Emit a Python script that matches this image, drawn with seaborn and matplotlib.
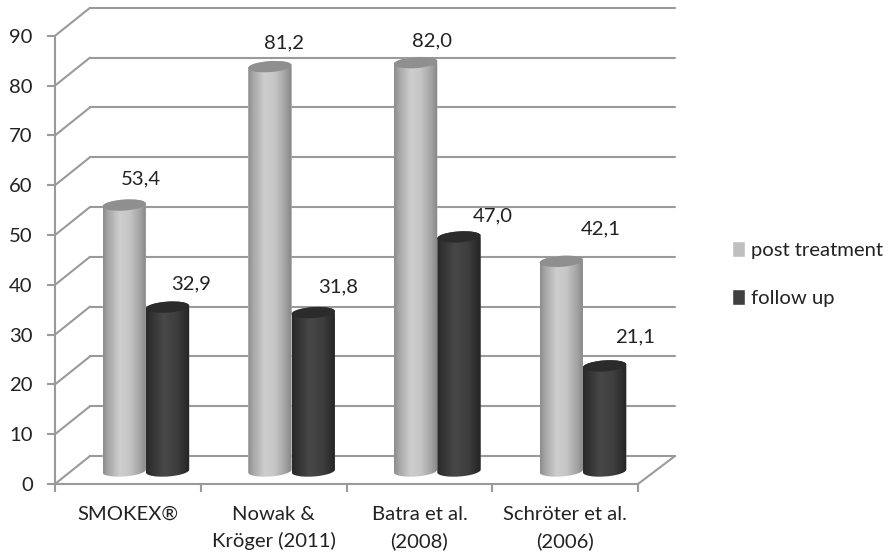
import numpy as np
import pandas as pd
import matplotlib
matplotlib.use("Agg")
import matplotlib.pyplot as plt
import seaborn as sns
from matplotlib.colors import LinearSegmentedColormap
from matplotlib.patches import ConnectionPatch, Ellipse, Polygon
from matplotlib.transforms import Affine2D, IdentityTransform

# values
studies = ["SMOKEX®", "Nowak &\nKröger (2011)", "Batra et al.\n(2008)", "Schröter et al.\n(2006)"]
post_treatment = [53.4, 81.2, 82.0, 42.1]
follow_up = [32.9, 31.8, 47.0, 21.1]
y_ticks = [0, 10, 20, 30, 40, 50, 60, 70, 80, 90]

# hand placed labels, offset in pixels from the bar top
post_offsets = [(17, 26), (14, 24), (16, 22), (40, 32)]
follow_offsets = [(24, 23), (25, 26), (34, 21), (30, 29)]

W, H = 891, 558
PX = 4.98  # pixels per percent
GRID = "#9a9a9a"
TEXT = "#222222"
FS = 14.6

sns.set_style("white")
plt.rcParams["font.family"] = ["Lato", "DejaVu Sans"]
plt.rcParams["font.size"] = FS


def rect(left, base, width, height):
    # pixel box (y measured from the top of the image) to figure fractions
    return [left / W, (H - base) / H, width / W, height / H]


fig = plt.figure(figsize=(W / 100, H / 100), dpi=100)

# back wall, front axis and the plane of the cylinders
back = fig.add_axes(rect(90, 456, 585, 90 * PX), zorder=0)
front = fig.add_axes(rect(55, 484, 583, 90 * PX), zorder=2, facecolor="none")
bars = fig.add_axes(rect(73, 471 + 10 * PX, 582.8, 100 * PX), zorder=5, facecolor="none")

back.set_xlim(0, 1)
back.set_ylim(0, 90)
back.set_xticks([])
back.set_yticks(y_ticks)
back.tick_params(left=False, labelleft=False)
back.grid(axis="y", color=GRID, lw=1.5)
for line in back.get_ygridlines():
    line.set_clip_on(False)
sns.despine(ax=back, left=True, bottom=True)

front.set_xlim(-0.5, 3.5)
front.set_ylim(0, 90)
front.set_yticks(y_ticks)
front.set_xticks([-0.5, 0.5, 1.5, 2.5, 3.5])
front.set_xticklabels([])
front.set_xticks(range(4), labels=studies, minor=True)
front.tick_params(axis="y", length=6, width=1.5, color=GRID, pad=10, labelcolor=TEXT, labelsize=FS, left=True)
front.tick_params(axis="x", which="major", length=6, width=1.5, color=GRID, bottom=True)
front.tick_params(axis="x", which="minor", length=0, pad=15.5, labelcolor=TEXT, labelsize=FS)
for lab in front.get_xticklabels(minor=True):
    lab.set_linespacing(1.62)
sns.despine(ax=front)
for side in ["left", "bottom"]:
    front.spines[side].set_color(GRID)
    front.spines[side].set_linewidth(1.5)

# slanted lines joining the front axis to the back wall
for v in y_ticks:
    fig.add_artist(ConnectionPatch((-0.5, v), (0, v), coordsA=front.transData, coordsB=back.transData,
                                   color=GRID, lw=1.5, zorder=1))
fig.add_artist(ConnectionPatch((3.5, 0), (1, 0), coordsA=front.transData, coordsB=back.transData,
                               color=GRID, lw=1.5, zorder=1))

df = pd.DataFrame({
    "study": studies * 2,
    "share": post_treatment + follow_up,
    "series": ["post treatment"] * 4 + ["follow up"] * 4,
})

bars.set_xlim(-0.5, 3.5)
bars.set_ylim(-10, 90)
sns.barplot(data=df, x="study", y="share", hue="series", palette=["#bfbfbf", "#404040"],
            width=0.595, gap=0, ax=bars, saturation=1)
bars.set_xlim(-0.5, 3.5)
bars.set_ylim(-10, 90)
bars.axis("off")

light = LinearSegmentedColormap.from_list("light", [(0, "#8d8d8d"), (0.12, "#a8a8a8"), (0.38, "#cecece"),
                                                    (0.6, "#c6c6c6"), (0.85, "#a4a4a4"), (1, "#858585")])
dark = LinearSegmentedColormap.from_list("dark", [(0, "#292929"), (0.4, "#484848"), (0.7, "#3e3e3e"), (1, "#242424")])
shade = np.linspace(0, 1, 64)[None, :]
TILT = np.radians(4)
RY = 5.5


def cylinder(patch, cmap, cap, z):
    x = patch.get_x()
    w = patch.get_width()
    top = patch.get_height()
    x0, y0 = bars.transData.transform((x, 0))
    x1, y1 = bars.transData.transform((x + w, top))
    cx, rx = (x0 + x1) / 2, (x1 - x0) / 2
    t = np.linspace(np.pi, 2 * np.pi, 40)
    lo = np.column_stack([rx * np.cos(t), RY * np.sin(t)])
    hi = np.column_stack([rx * np.cos(t[::-1]), -RY * np.sin(t[::-1])])
    rot = np.array([[np.cos(TILT), -np.sin(TILT)], [np.sin(TILT), np.cos(TILT)]])
    outline = np.vstack([lo @ rot.T + [cx, y0], hi @ rot.T + [cx, y1]])
    clip = Polygon(outline, closed=True, transform=IdentityTransform())
    patch.set_zorder(z)
    patch.set_clip_path(clip)
    im = bars.imshow(shade, cmap=cmap, extent=(x, x + w, -5, top + 3), aspect="auto",
                     interpolation="bilinear", zorder=z + 0.1)
    im.set_clip_path(clip)
    lid = Ellipse((0, 0), 2, 2, facecolor=cap, edgecolor="none", zorder=z + 0.2,
                  transform=Affine2D().scale(rx, RY).rotate(TILT).translate(cx, y1))
    bars.add_artist(lid)


n = len(studies)
for i, patch in enumerate(bars.patches[:n]):
    cylinder(patch, light, "#8f8f8f", 3)
for i, patch in enumerate(bars.patches[n:2 * n]):
    cylinder(patch, dark, "#2b2b2b", 4)

bars.set_xlim(-0.5, 3.5)
bars.set_ylim(-10, 90)

for patches, values, offsets in [(bars.patches[:n], post_treatment, post_offsets),
                                 (bars.patches[n:2 * n], follow_up, follow_offsets)]:
    for patch, v, off in zip(patches, values, offsets):
        bars.annotate(f"{v:.1f}".replace(".", ","), (patch.get_x() + patch.get_width() / 2, v),
                      xytext=off, textcoords="offset pixels", ha="center", va="center",
                      color=TEXT, fontsize=FS, zorder=10)

sns.move_legend(bars, "center left", bbox_to_anchor=(714 / W, 1 - 274 / H), bbox_transform=fig.transFigure,
                title=None, frameon=False, fontsize=FS, labelspacing=1.45, handlelength=0.62,
                handleheight=0.85, handletextpad=0.3, labelcolor=TEXT)

fig.savefig("out.png", dpi=100)
